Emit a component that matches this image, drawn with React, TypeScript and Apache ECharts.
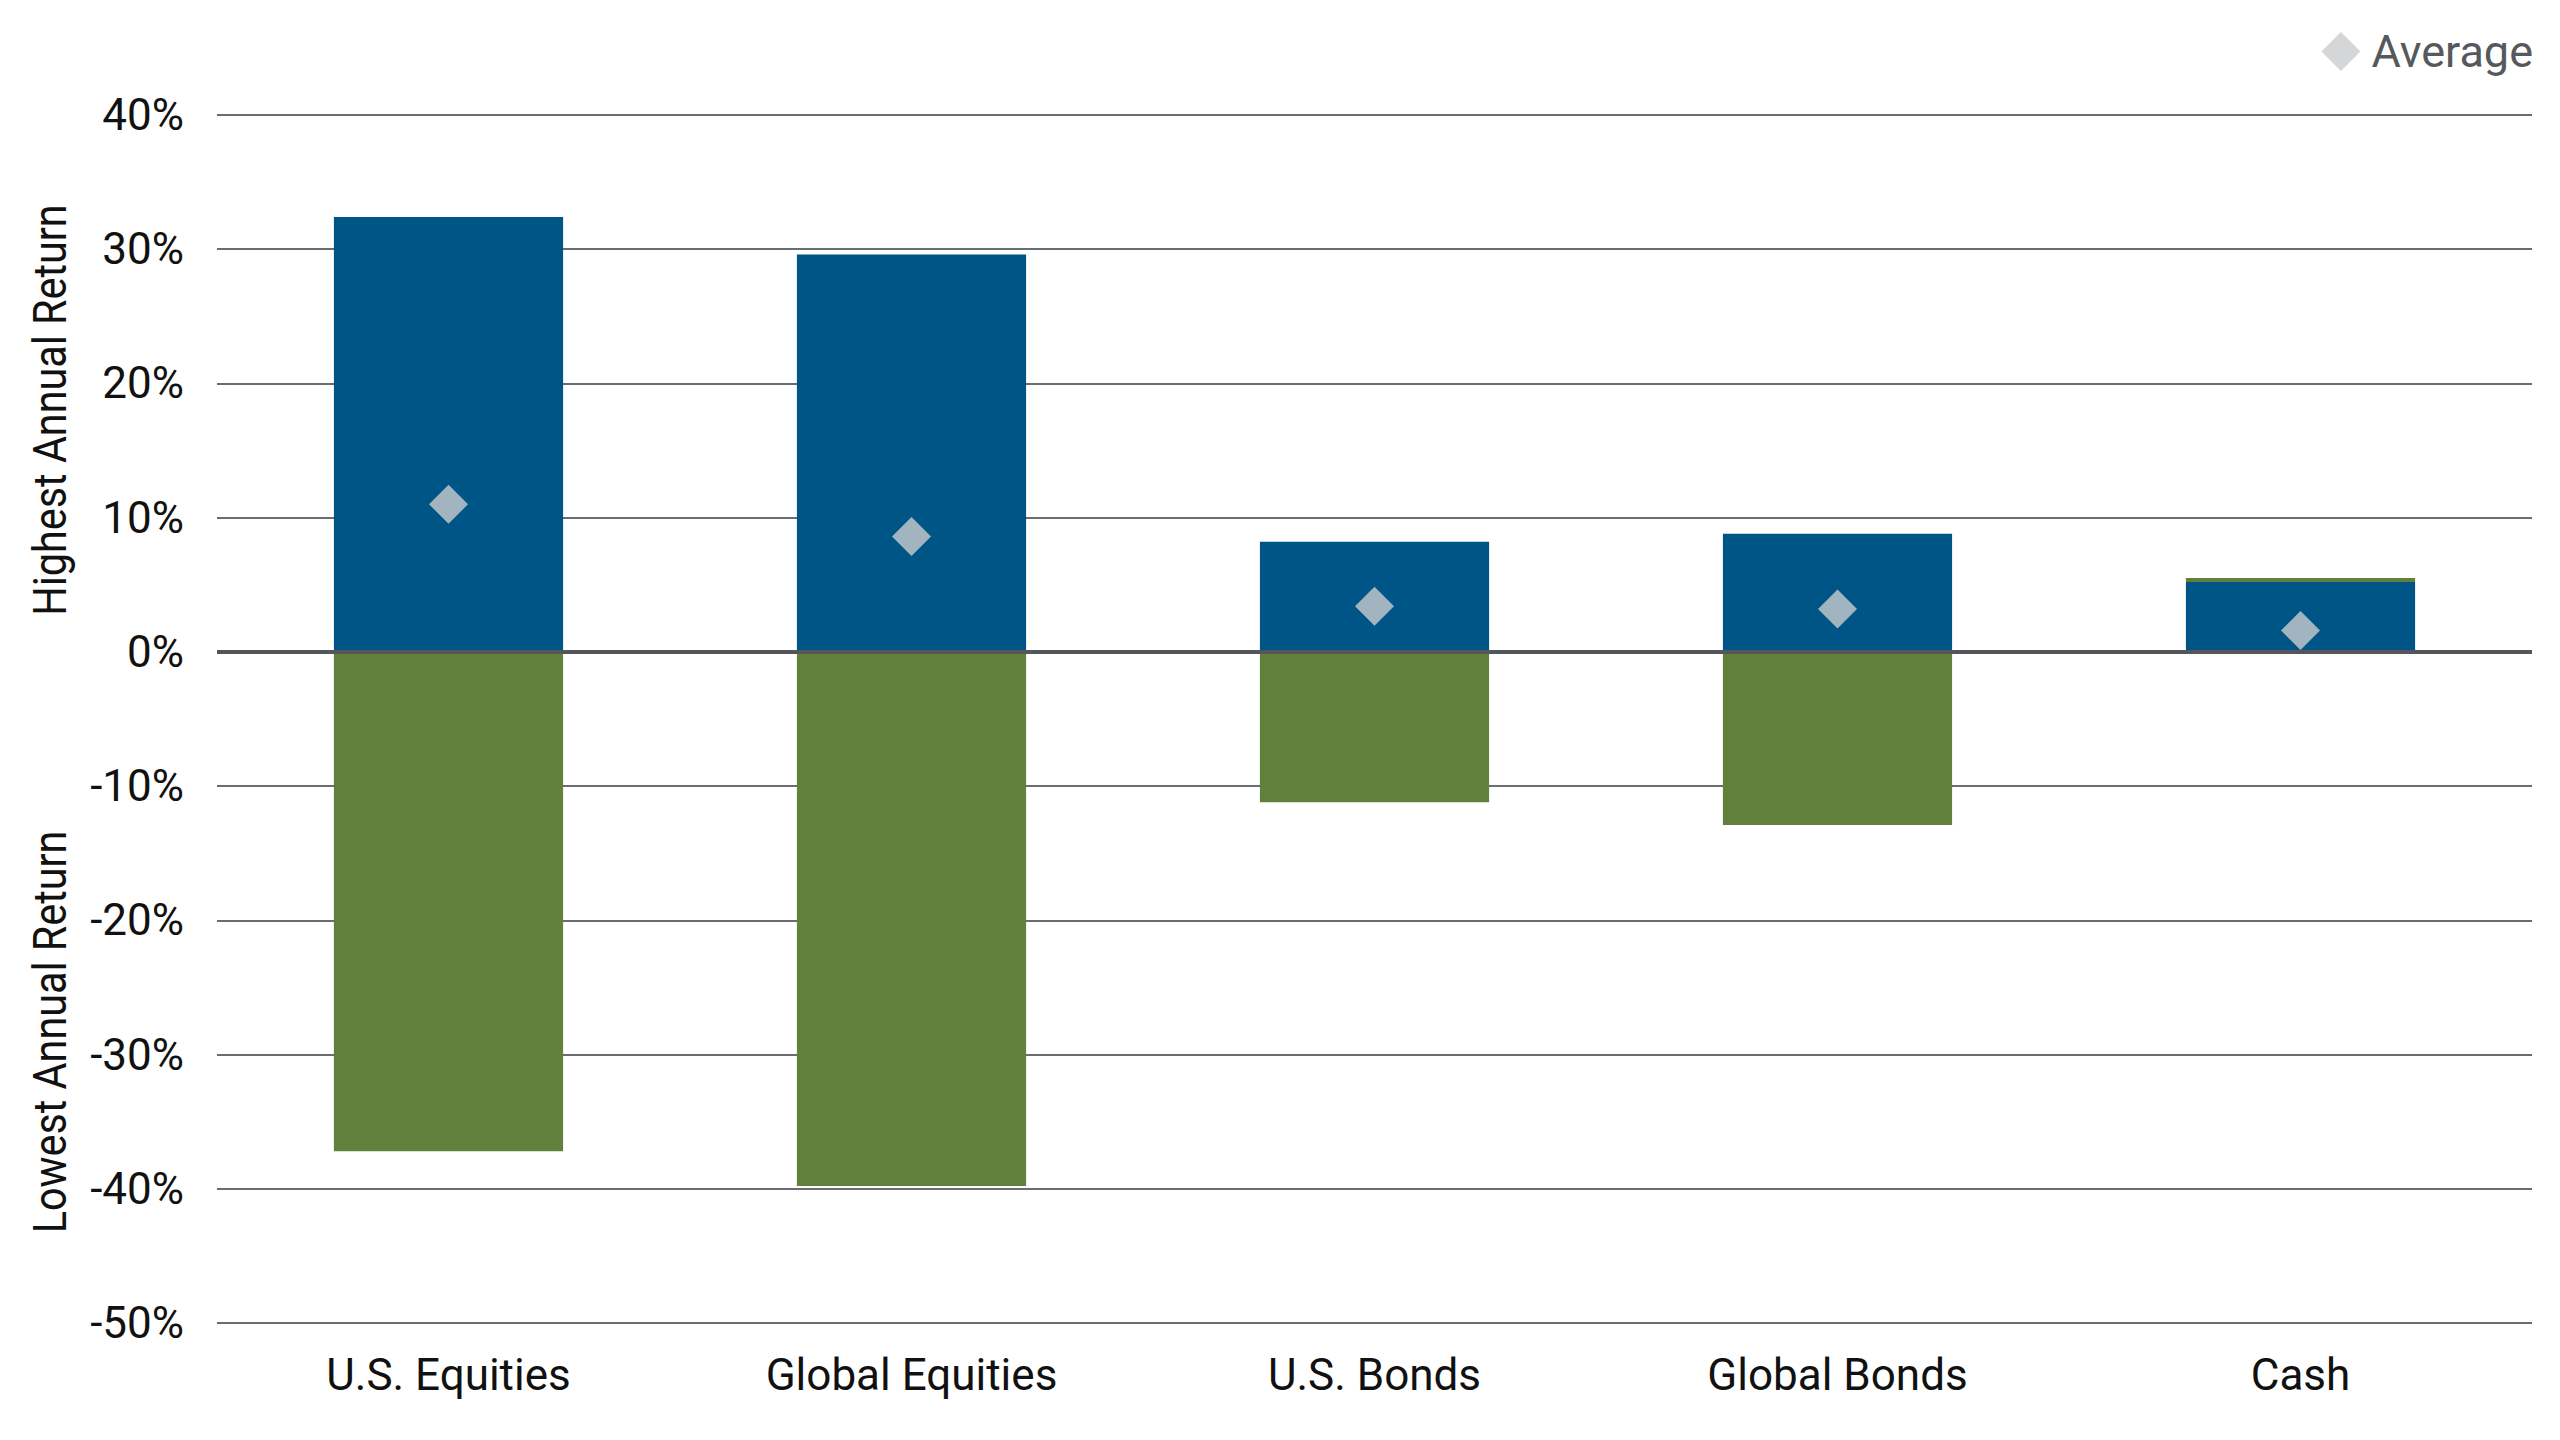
import * as echarts from 'echarts';
import React, { useEffect, useRef } from 'react';

const categories = ['U.S. Equities', 'Global Equities', 'U.S. Bonds', 'Global Bonds', 'Cash'];
const highestReturn = [32.4, 29.6, 8.2, 8.8, 5.2];
const lowestReturn = [-37.2, -39.8, -11.2, -12.9, 0.3];
const averageReturn = [11.0, 8.6, 3.4, 3.2, 1.6];

const FONT = 'Roboto, "Noto Sans", sans-serif';

const App: React.FC = () => {
  const chartRef = useRef<HTMLDivElement>(null);

  useEffect(() => {
    document.body.style.margin = '0';
    if (!chartRef.current) return;

    const chart = echarts.init(chartRef.current, undefined, { renderer: 'svg' });

    // rotated axis titles, one for each half of the value axis
    const axisTitle = (text: string, y: number) => ({
      type: 'text' as const,
      x: 50,
      y,
      rotation: Math.PI / 2,
      scaleX: 0.88,
      style: {
        text,
        fontSize: 47,
        fontFamily: FONT,
        fill: '#111111',
        align: 'center' as const,
        verticalAlign: 'middle' as const,
      },
    });

    const option: echarts.EChartsOption = {
      animation: false,
      backgroundColor: '#ffffff',
      textStyle: { fontFamily: FONT },
      legend: {
        data: ['Average'],
        right: 22,
        top: 24,
        itemWidth: 39,
        itemHeight: 39,
        textStyle: {
          fontSize: 45,
          color: '#55595e',
          fontFamily: FONT,
          padding: [0, 0, 0, 6],
        },
      },
      grid: {
        left: 217,
        right: 28,
        top: 115,
        bottom: 117,
      },
      xAxis: {
        type: 'category',
        data: categories,
        axisLine: { show: false, onZero: false },
        axisTick: { show: false },
        axisLabel: {
          fontSize: 44,
          color: '#111111',
          margin: 30,
          fontFamily: FONT,
        },
      },
      yAxis: {
        type: 'value',
        min: -50,
        max: 40,
        interval: 10,
        axisLine: { show: false },
        axisTick: { show: false },
        axisLabel: {
          formatter: '{value}%',
          fontSize: 44,
          color: '#111111',
          margin: 33,
          fontFamily: FONT,
        },
        splitLine: {
          lineStyle: { color: '#6a6d72', width: 2 },
        },
      },
      graphic: [
        axisTitle('Highest Annual Return', 410),
        axisTitle('Lowest Annual Return', 1032),
      ],
      series: [
        {
          name: 'Highest',
          type: 'bar',
          stack: 'range',
          barWidth: '49.5%',
          data: highestReturn,
          itemStyle: { color: '#005587' },
          markLine: {
            silent: true,
            symbol: 'none',
            label: { show: false },
            lineStyle: { color: '#53575c', width: 4, type: 'solid' },
            data: [{ yAxis: 0 }],
          },
        },
        {
          name: 'Lowest',
          type: 'bar',
          stack: 'range',
          barWidth: '49.5%',
          data: lowestReturn,
          itemStyle: { color: '#61803b' },
        },
        {
          name: 'Average',
          type: 'scatter',
          symbol: 'diamond',
          symbolSize: 39,
          data: averageReturn,
          itemStyle: { color: '#cbccce' },
          z: 5,
        },
      ],
    };

    chart.setOption(option);

    const handleResize = () => chart.resize();
    window.addEventListener('resize', handleResize);

    return () => {
      window.removeEventListener('resize', handleResize);
      chart.dispose();
    };
  }, []);

  return <div ref={chartRef} style={{ width: 2560, height: 1440 }} />;
};

export default App;
